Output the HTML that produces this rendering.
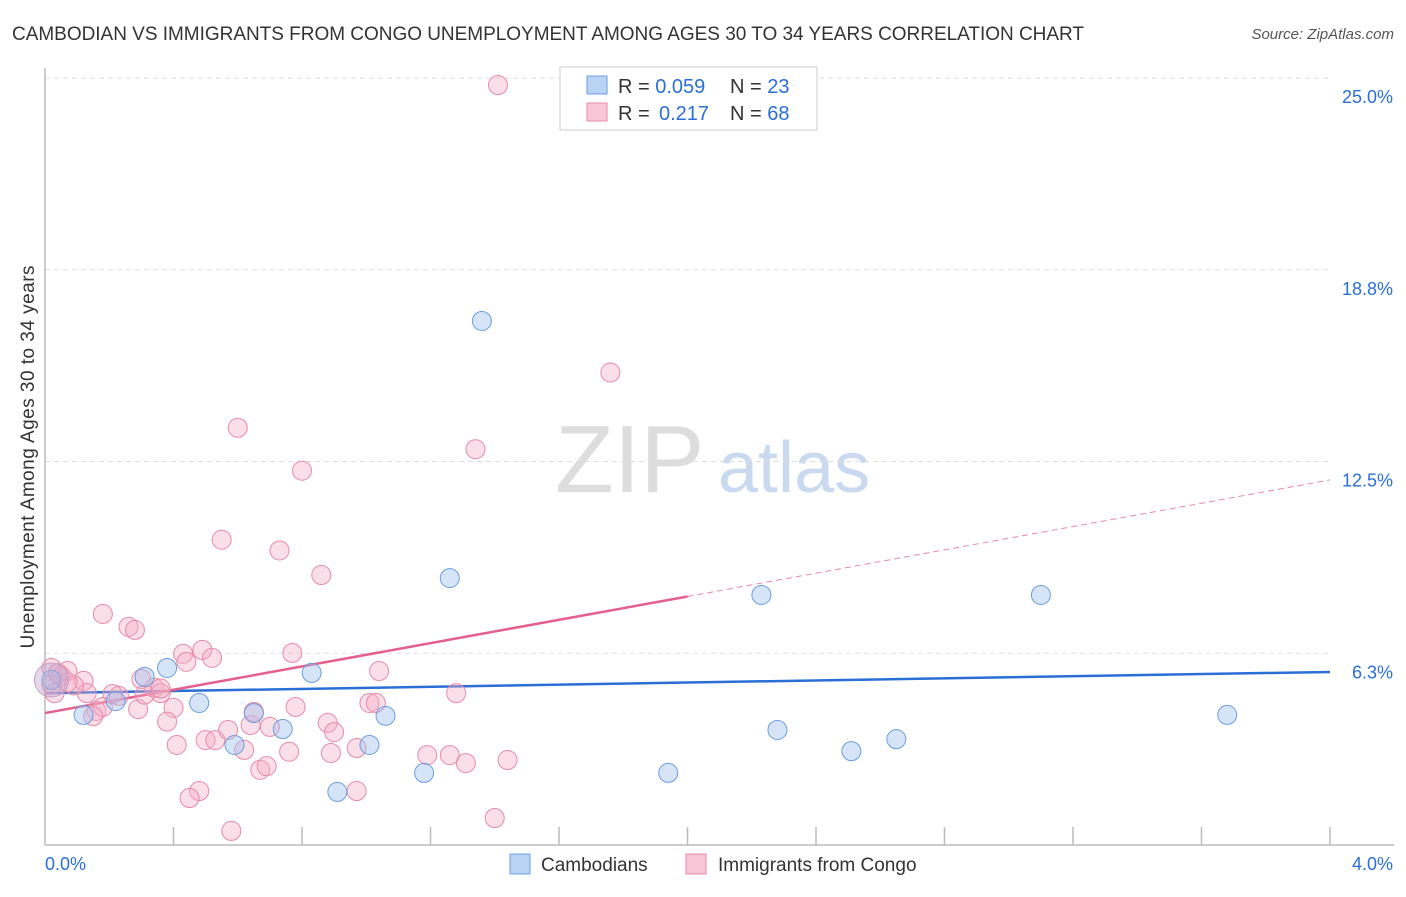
<!DOCTYPE html>
<html><head><meta charset="utf-8"><style>
body{margin:0;background:#fff;font-family:"Liberation Sans",sans-serif}
svg text{font-family:"Liberation Sans",sans-serif}
</style></head><body>
<svg id="c" width="1406" height="892" xmlns="http://www.w3.org/2000/svg">
<text x="12" y="40" font-size="19" fill="#333" textLength="1072">CAMBODIAN VS IMMIGRANTS FROM CONGO UNEMPLOYMENT AMONG AGES 30 TO 34 YEARS CORRELATION CHART</text>
<text x="1394" y="39" font-size="15" fill="#555" font-style="italic" text-anchor="end">Source: ZipAtlas.com</text>
<text x="0" y="0" transform="translate(34,457) rotate(-90)" font-size="19" fill="#333" text-anchor="middle" textLength="383">Unemployment Among Ages 30 to 34 years</text>
<g><text x="555" y="492" font-size="96" font-family="Liberation Serif" fill="#ddd">ZIP</text><text x="718" y="492" font-size="72" fill="#c9d9ef">atlas</text></g>
<g id="grid"></g><g id="axes"></g><g id="trend"></g><g id="pts"></g>
<g>
<rect x="560" y="67" width="257" height="63" fill="#fff" stroke="#ccc"/>
<rect x="587" y="76" width="20" height="18" fill="#b9d3f5" stroke="#6b9de0"/>
<text x="618" y="93" font-size="20" fill="#333">R = <tspan fill="#2a6fd6">0.059</tspan><tspan x="730">N = </tspan><tspan fill="#2a6fd6">23</tspan></text>
<rect x="587" y="103" width="20" height="18" fill="#f8c6d6" stroke="#e88aa8"/>
<text x="618" y="120" font-size="20" fill="#333">R = <tspan x="659" fill="#2a6fd6">0.217</tspan><tspan x="730">N = </tspan><tspan fill="#2a6fd6">68</tspan></text>
</g>
<g>
<rect x="510" y="854" width="20" height="20" fill="#b9d3f5" stroke="#6b9de0"/>
<text x="541" y="871" font-size="19" fill="#333">Cambodians</text>
<rect x="686" y="854" width="20" height="20" fill="#f8c6d6" stroke="#e88aa8"/>
<text x="718" y="871" font-size="19" fill="#333">Immigrants from Congo</text>
</g>
</svg>
<script>
const yTicks=[6.25,12.5,18.75,25];
const yTickLabels=["6.3%","12.5%","18.8%","25.0%"];
const xTickCount=10;
const blueX=[0.02,0.12,0.22,0.31,0.38,0.48,0.59,0.65,0.74,0.83,0.91,1.01,1.06,1.18,1.26,1.36,1.94,2.23,2.28,2.51,2.65,3.10,3.68];
const blueY=[5.38,4.24,4.69,5.48,5.77,4.63,3.26,4.30,3.78,5.61,1.73,3.26,4.21,2.35,8.70,17.08,2.35,8.15,3.75,3.06,3.45,8.15,4.24];
const pinkX=[0.18,0.26,0.28,0.43,0.44,0.49,0.52,0.77,1.04,0.02,0.07,0.12,0.13,0.21,0.23,0.30,0.34,0.36,0.29,0.16,0.40,0.38,0.41,0.50,0.53,0.57,0.62,0.64,0.65,0.70,0.78,0.76,0.67,0.69,0.48,0.45,0.58,0.88,0.90,0.89,0.97,1.01,1.03,0.97,1.19,1.26,1.31,1.44,1.28,1.40,0.02,0.03,1.41,1.76,0.60,1.34,0.80,0.55,0.73,0.86,0.05,0.09,0.31,0.36,0.18,0.15,0.04,0.07];
const pinkY=[7.53,7.11,7.01,6.23,5.97,6.36,6.10,6.26,5.67,5.77,5.67,5.35,4.95,4.92,4.86,5.41,5.12,4.95,4.43,4.37,4.47,4.02,3.26,3.42,3.42,3.75,3.10,3.91,4.34,3.85,4.50,3.04,2.45,2.57,1.76,1.53,0.46,3.98,3.68,3.00,3.16,4.63,4.63,1.76,2.93,2.93,2.67,2.77,4.95,0.88,5.22,4.95,24.77,15.4,13.6,12.9,12.2,9.95,9.6,8.8,5.5,5.2,4.9,5.1,4.5,4.2,5.6,5.3];
const trendBlue=[4.95,5.64];
const trendPink=[4.30,11.9];
const pinkSolidEnd=2.0;
const NS="http://www.w3.org/2000/svg";
const X=v=>45+v*321.25, Y=v=>845-v*30.68;
function mk(tag,at,parent){const e=document.createElementNS(NS,tag);for(const k in at)e.setAttribute(k,at[k]);document.getElementById(parent).appendChild(e);return e;}
yTicks.forEach((t,i)=>{
 const g=mk('line',{x1:45,x2:1330,y1:Y(t),y2:Y(t),stroke:'#ddd','stroke-dasharray':'5,4'},'grid');
 
 
 const l=mk('text',{x:1393,y:Y(t)+25,'font-size':18,fill:'#2a6fd6','text-anchor':'end'},'axes');
 l.textContent=yTickLabels[i];
 
 
});
mk('line',{x1:45,x2:45,y1:68,y2:845,stroke:'#bbb','stroke-width':1.5},'axes');
mk('line',{x1:45,x2:1394,y1:845,y2:845,stroke:'#bbb','stroke-width':1.5},'axes');
for(let i=1;i<=xTickCount;i++){const t=mk('line',{x1:X(i*0.4),x2:X(i*0.4),y1:827,y2:845,stroke:'#bbb','stroke-width':1.5},'axes');
 
 }
const x0=mk('text',{x:45,y:870,'font-size':18,fill:'#2a6fd6'},'axes');x0.textContent='0.0%';


const x1=mk('text',{x:1393,y:870,'font-size':18,fill:'#2a6fd6','text-anchor':'end'},'axes');x1.textContent='4.0%';


const lerp=(a,x)=>a[0]+(a[1]-a[0])*x/4;
pinkX.forEach((x,i)=>{const c=mk('circle',{cx:X(x),cy:Y(pinkY[i]),r:9.5,fill:'rgba(244,170,195,0.38)',stroke:'#e88aa8','stroke-width':1},'pts');
 
 });
blueX.forEach((x,i)=>{const c=mk('circle',{cx:X(x),cy:Y(blueY[i]),r:9.5,fill:'rgba(164,196,240,0.45)',stroke:'#6b9de0','stroke-width':1},'pts');
 
 });
const big=mk('circle',{cx:X(0.02),cy:Y(5.38),r:17,fill:'rgba(190,170,210,0.45)',stroke:'#c4a0c8'},'pts');


const tb=mk('line',{x1:X(0),y1:Y(lerp(trendBlue,0)),x2:X(4),y2:Y(lerp(trendBlue,4)),stroke:'#2a6fd6','stroke-width':2.5},'trend');


const tp=mk('line',{x1:X(0),y1:Y(lerp(trendPink,0)),x2:X(pinkSolidEnd),y2:Y(lerp(trendPink,pinkSolidEnd)),stroke:'#e4608a','stroke-width':2.5},'trend');


const td=mk('line',{x1:X(pinkSolidEnd),y1:Y(lerp(trendPink,pinkSolidEnd)),x2:X(4),y2:Y(lerp(trendPink,4)),stroke:'#e88aa8','stroke-width':1,'stroke-dasharray':'6,4'},'trend');


</script>
</body></html>
